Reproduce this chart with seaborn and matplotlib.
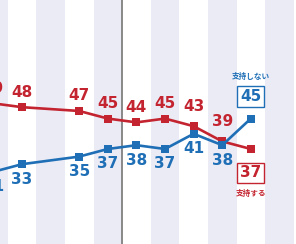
import matplotlib
matplotlib.use('Agg')
import matplotlib.pyplot as plt
import seaborn as sns
import pandas as pd

# survey index (one column per survey); index 1 has no data
survey_idx = [-1, 0, 2, 3, 4, 5, 6, 7, 8]
support = [49, 48, 47, 45, 44, 45, 43, 39, 37]        # 支持する
nonsupport = [31, 33, 35, 37, 38, 37, 41, 38, 45]     # 支持しない
series_names = ['支持する', '支持しない']

sns.set_theme(style='white')
plt.rcParams['font.family'] = ['DejaVu Sans', 'Noto Sans CJK JP']

RED = '#c3242f'
BLUE = '#1f6fb6'
STRIPE = '#ebebf5'

df = pd.DataFrame({
    'idx': survey_idx * 2,
    'value': support + nonsupport,
    'series': [series_names[0]] * len(support) + [series_names[1]] * len(nonsupport),
})

fig = plt.figure(figsize=(2.96, 2.44), dpi=100)
ax = fig.add_axes([0, 0, 1, 1])
ax.set_xlim(-0.77, 9.58)
ax.set_ylim(12, 76.2)

for c in range(-1, 11, 2):
    ax.axvspan(c - 0.5, c + 0.5, color=STRIPE, lw=0, zorder=0)
ax.axvline(3.5, color='#808080', lw=1.3, zorder=1)

sns.lineplot(data=df, x='idx', y='value', hue='series',
             palette={series_names[0]: RED, series_names[1]: BLUE},
             marker='s', markersize=6, markeredgewidth=0, linewidth=1.9,
             legend=False, ax=ax, zorder=3)

PX = 0.72
fs = 11
NUMFONT = ['DejaVu Sans']
JPFONT = ['Noto Sans CJK JP']
last = len(survey_idx) - 1
for k, (x, r, b) in enumerate(zip(survey_idx, support, nonsupport)):
    if k == last:
        continue
    roff = 15 if abs(r - b) > 2 else 20
    ax.annotate(str(r), (x, r), xytext=(0, roff * PX), textcoords='offset points',
                ha='center', va='center', color=RED, fontsize=fs, fontweight='bold',
                family=NUMFONT, annotation_clip=False)
    ax.annotate(str(b), (x, b), xytext=(0, -15 * PX), textcoords='offset points',
                ha='center', va='center', color=BLUE, fontsize=fs, fontweight='bold',
                family=NUMFONT, annotation_clip=False)

xl = survey_idx[last]
ax.annotate(str(nonsupport[last]), (xl, nonsupport[last]), xytext=(0, 22 * PX),
            textcoords='offset points', ha='center', va='center', color=BLUE,
            fontsize=fs, fontweight='bold', family=NUMFONT,
            bbox=dict(boxstyle='square,pad=0.18', fc='white', ec=BLUE, lw=1))
ax.annotate(series_names[1], (xl, nonsupport[last]), xytext=(0, 42 * PX),
            textcoords='offset points', ha='center', va='center', color=BLUE,
            fontsize=5.5, fontweight='bold', family=JPFONT)
ax.annotate(str(support[last]), (xl, support[last]), xytext=(0, -24 * PX),
            textcoords='offset points', ha='center', va='center', color=RED,
            fontsize=fs, fontweight='bold', family=NUMFONT,
            bbox=dict(boxstyle='square,pad=0.18', fc='white', ec=RED, lw=1))
ax.annotate(series_names[0], (xl, support[last]), xytext=(0, -45 * PX),
            textcoords='offset points', ha='center', va='center', color=RED,
            fontsize=5.5, fontweight='bold', family=JPFONT)

ax.set_axis_off()
fig.savefig('out.png', dpi=100)
